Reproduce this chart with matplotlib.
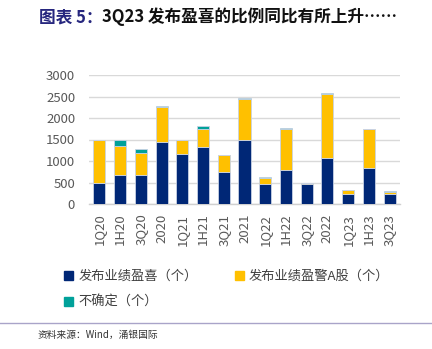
import matplotlib
matplotlib.use('Agg')
import matplotlib.pyplot as plt
from matplotlib.patches import Patch
import numpy as np

plt.rcParams['font.family'] = ['Noto Sans CJK SC', 'DejaVu Sans']

# data
periods = ['1Q20', '1H20', '3Q20', '2020', '1Q21', '1H21', '3Q21', '2021',
           '1Q22', '1H22', '3Q22', '2022', '1Q23', '1H23', '3Q23']
positive = [500, 680, 680, 1446, 1170, 1330, 742, 1490,
            456, 780, 456, 1075, 240, 828, 224]
warning = [985, 673, 495, 812, 315, 425, 395, 960,
           147, 968, 30, 1493, 77, 912, 47]
uncertain = [15, 140, 93, 32, 15, 60, 8, 15,
             16, 15, 8, 15, 16, 8, 38]
series_names = ['发布业绩盈喜（个）', '发布业绩盈警A股（个）', '不确定（个）']
yticks = [0, 500, 1000, 1500, 2000, 2500, 3000]

c_navy = '#002776'
c_yellow = '#FFC000'
c_teal = '#00A19A'
edge = '#C8D2E4'

fig = plt.figure(figsize=(4.32, 3.49), dpi=100)
ax = fig.add_axes([89 / 432, 1 - 204 / 349, 311 / 432, 129 / 349])

x = np.arange(len(periods))
pos = np.array(positive)
warn = np.array(warning)
unc = np.array(uncertain)
w = 0.58
ax.bar(x, pos, w, color=c_navy, edgecolor=edge, linewidth=0.6, zorder=3)
ax.bar(x, warn, w, bottom=pos, color=c_yellow, edgecolor=edge, linewidth=0.6, zorder=3)
ax.bar(x, unc, w, bottom=pos + warn, color=c_teal, edgecolor=edge, linewidth=0.6, zorder=3)

ax.set_xlim(-0.5, len(periods) - 0.5)
ax.set_ylim(0, 3000)
ax.set_yticks(yticks)
ax.set_xticks(x)
ax.set_xticklabels(periods, rotation=90)
ax.tick_params(axis='both', length=0, labelsize=9.5, labelcolor='#595959')
ax.tick_params(axis='y', pad=10)
ax.tick_params(axis='x', pad=7)
ax.grid(axis='y', color='#D9D9D9', linewidth=1, zorder=0)
for s in ['top', 'right', 'left']:
    ax.spines[s].set_visible(False)
ax.spines['bottom'].set_color('#D0D0D0')
ax.spines['bottom'].set_linewidth(1)

# legend, row-major order
handles = [Patch(color=c_navy), Patch(color=c_teal), Patch(color=c_yellow)]
labels = [series_names[0], series_names[2], series_names[1]]
fig.legend(handles, labels, loc='upper left', bbox_to_anchor=(52 / 432, 1 - 258 / 349),
           ncol=2, frameon=False, fontsize=9.5, handlelength=0.7, handleheight=0.7,
           handletextpad=0.4, columnspacing=2.8, labelspacing=1.0, labelcolor='#404040')

# title
t1 = fig.text(39 / 432, 1 - 22 / 349, '图表 5：', fontsize=12, fontweight='bold',
              color='#26267E', va='baseline')
ax.annotate('3Q23 发布盈喜的比例同比有所上升……', xy=(1, 0), xycoords=t1,
            fontsize=12, fontweight='bold', color='#111111', va='bottom',
            annotation_clip=False)

# footer
fig.add_artist(plt.Line2D([0, 1], [1 - 323 / 349] * 2, color='#A9A4C9', linewidth=1))
fig.text(38 / 432, 1 - 335 / 349, '资料来源：Wind，涌银国际', fontsize=7, color='#333333',
         va='center')

fig.savefig('out.png', dpi=100)
